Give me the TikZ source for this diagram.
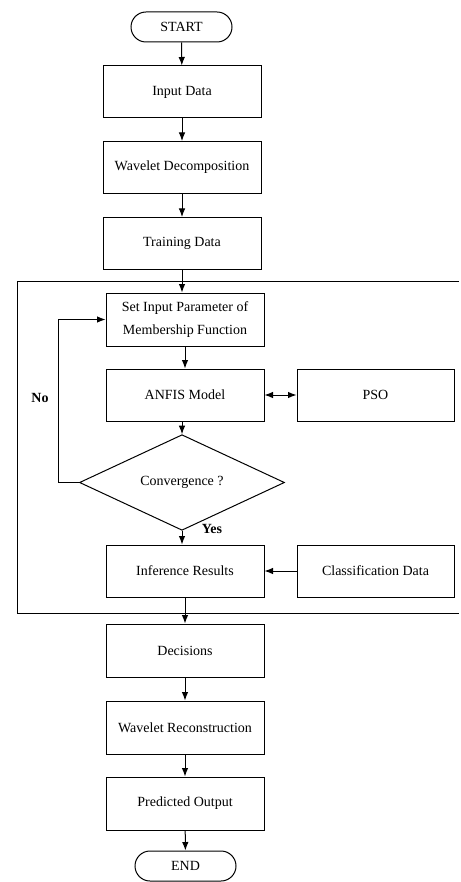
\documentclass[tikz,border=0pt]{standalone}
\usepackage{fontspec}
\setmainfont{Liberation Serif}
\usetikzlibrary{shapes.geometric,shapes.misc,arrows.meta}
\begin{document}
\begin{tikzpicture}[x=1pt,y=-1pt,
  every node/.style={font=\fontsize{14}{22.5}\selectfont},
  box/.style={draw,line width=1pt,rectangle,minimum width=158pt,minimum height=52pt,inner sep=2pt,align=center,fill=white},
  term/.style={draw,line width=1pt,rounded rectangle,minimum width=105pt,minimum height=30pt,inner sep=2pt,fill=white},
  dec/.style={draw,line width=1pt,diamond,minimum width=205pt,minimum height=75pt,inner sep=0pt,fill=white},
  arr/.style={line width=1pt,-{Latex[length=8.5pt,width=6.5pt]}},
  darr/.style={line width=1pt,{Latex[length=8.5pt,width=6.5pt]}-{Latex[length=8.5pt,width=6.5pt]}},
  lbl/.style={font=\fontsize{14}{17}\selectfont\bfseries}
]
\useasboundingbox (0,0) rectangle (460,882);
% frame (right side off the picture)
\draw[line width=1pt] (459,281) -- (17,281) -- (17,613) -- (459,613);

\node[term] (start) at (181.5,27) {START};
\node[box] (input) at (182,92) {Input Data};
\node[box] (wdec) at (182,167.5) {Wavelet Decomposition};
\node[box] (train) at (182,243.5) {Training Data};
\node[box,minimum height=53pt] (setin) at (185,319.5) {Set Input Parameter of\\Membership Function};
\node[box] (anfis) at (185,395) {ANFIS Model};
\node[box,minimum width=157pt] (pso) at (375.5,395) {PSO};
\node[dec] (conv) at (182,482.5) {Convergence ?};
\node[box] (infer) at (185,571) {Inference Results};
\node[box,minimum width=157pt] (class) at (375.5,571) {Classification Data};
\node[box,minimum height=53pt] (decis) at (185,650.5) {Decisions};
\node[box,minimum height=53pt] (wrec) at (185,727.5) {Wavelet Reconstruction};
\node[box,minimum height=53pt] (pred) at (185,803.5) {Predicted Output};
\node[term] (end) at (185.5,866) {END};

\node[lbl] (no) at (40,398) {No};
\node[lbl] (yes) at (212,529) {Yes};
\coordinate (loop) at (58,482.5);

\draw[arr] (start) -- (input);
\draw[arr] (input) -- (wdec);
\draw[arr] (wdec) -- (train);
\draw[arr] (train.south) -- (train.south |- setin.north);
\draw[arr] (setin) -- (anfis);
\draw[arr] (anfis.south -| conv.north) -- (conv.north);
\draw[darr] (anfis) -- (pso);
\draw[arr] (conv.south) -- (conv.south |- infer.north);
\draw[arr] (conv.west) -- (loop) |- (setin.west);
\draw[arr] (class) -- (infer);
\draw[arr] (infer) -- (decis);
\draw[arr] (decis) -- (wrec);
\draw[arr] (wrec) -- (pred);
\draw[arr] (pred) -- (end);
\end{tikzpicture}
\end{document}
